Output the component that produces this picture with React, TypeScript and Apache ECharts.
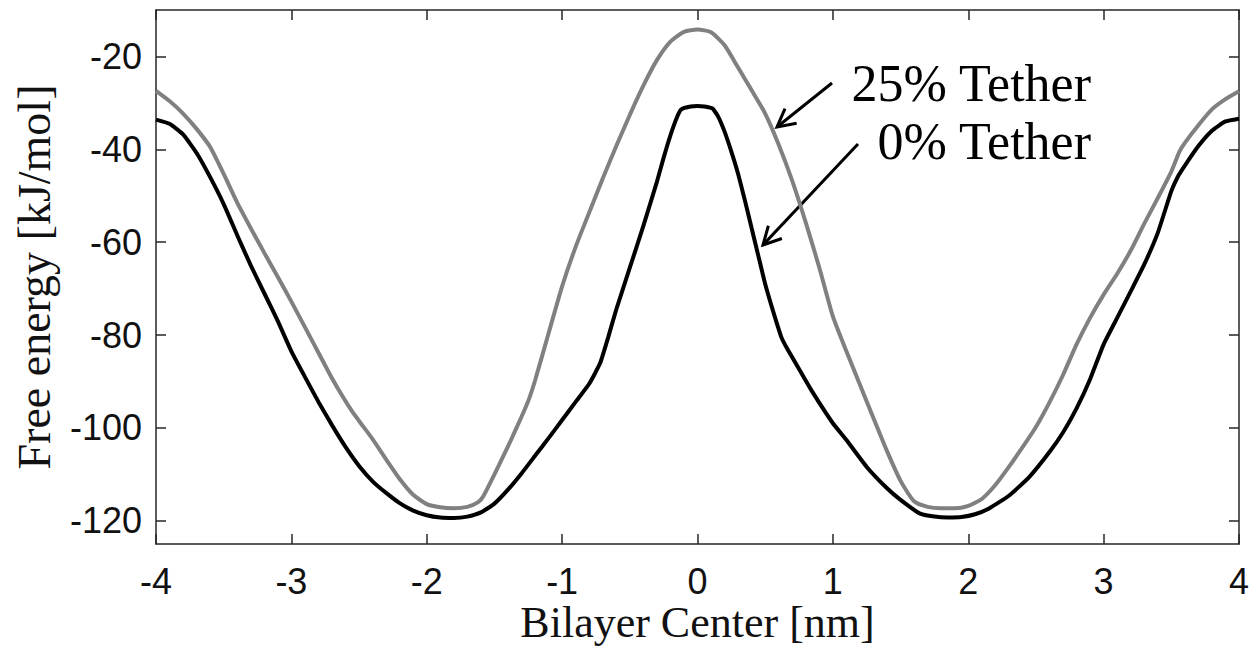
import React, { useEffect, useRef } from "react";
import * as echarts from "echarts";

const xTicks = [-4, -3, -2, -1, 0, 1, 2, 3, 4];
const yTicks = [-120, -100, -80, -60, -40, -20];

const tether25X = [
  -4.0, -3.9, -3.8, -3.7, -3.6, -3.5, -3.4, -3.3, -3.2, -3.1, -3.0, -2.9, -2.8, -2.7, -2.62, -2.55, -2.5, -2.4, -2.3,
  -2.2, -2.1, -2.0, -1.9, -1.8, -1.7, -1.62, -1.58, -1.5, -1.4, -1.3, -1.245, -1.2, -1.1, -1.0, -0.9, -0.8, -0.7,
  -0.6, -0.5, -0.4, -0.3, -0.2, -0.1, 0.0, 0.1, 0.2, 0.3, 0.4, 0.5, 0.6, 0.7, 0.8, 0.9, 1.0, 1.1, 1.2, 1.3, 1.4,
  1.5, 1.6, 1.7, 1.8, 1.9, 2.0, 2.1, 2.2, 2.3, 2.4, 2.5, 2.6, 2.7, 2.8, 2.9, 3.0, 3.1, 3.2, 3.3, 3.4, 3.5, 3.56,
  3.6, 3.7, 3.8, 3.9, 4.0,
];
const tether25Y = [
  -27.4, -29.6, -32.3, -35.6, -39.5, -45.3, -51.5, -57.0, -62.3, -67.5, -72.8, -78.3, -83.8, -89.3, -93.3, -96.5,
  -98.5, -102.4, -106.8, -111.0, -114.4, -116.4, -117.1, -117.3, -117.0, -116.0, -114.6, -110.0, -104.0, -97.6,
  -93.8, -89.8, -79.6, -69.5, -61.0, -53.6, -46.3, -39.3, -32.6, -26.3, -20.8, -16.8, -14.7, -14.2, -14.8, -17.6,
  -22.4, -27.3, -32.3, -39.0, -46.8, -55.8, -65.5, -76.0, -83.5, -90.7, -97.9, -105.0, -111.4, -115.8, -117.0,
  -117.3, -117.3, -116.8, -115.3, -112.3, -108.4, -104.2, -99.8, -94.5, -88.6, -82.0, -76.3, -71.3, -66.8, -61.8,
  -56.0, -50.5, -44.8, -40.5, -38.6, -34.8, -31.4, -29.2, -27.5,
];

const tether0X = [
  -4.0, -3.9, -3.8, -3.7, -3.6, -3.5, -3.4, -3.3, -3.2, -3.1, -3.0, -2.9, -2.8, -2.7, -2.6, -2.5, -2.4, -2.3, -2.2,
  -2.1, -2.0, -1.9, -1.8, -1.7, -1.6, -1.5, -1.4, -1.3, -1.2, -1.1, -1.0, -0.9, -0.8, -0.72, -0.66, -0.6, -0.5,
  -0.4, -0.3, -0.25, -0.2, -0.15, -0.12, -0.05, 0.0, 0.05, 0.11, 0.15, 0.2, 0.25, 0.3, 0.35, 0.4, 0.45, 0.5, 0.56,
  0.62, 0.66, 0.75, 0.85, 1.0, 1.1, 1.25, 1.4, 1.5, 1.64, 1.75, 1.85, 1.95, 2.05, 2.15, 2.3, 2.45, 2.6, 2.7, 2.8,
  2.9, 3.0, 3.1, 3.2, 3.3, 3.4, 3.5, 3.55, 3.6, 3.7, 3.8, 3.9, 4.0,
];
const tether0Y = [
  -33.6, -34.5, -36.8, -40.8, -46.0, -51.8, -58.5, -65.0, -71.0, -77.0, -83.5, -89.0, -94.4, -99.4, -104.1, -108.2,
  -111.5, -114.0, -116.2, -117.8, -118.8, -119.3, -119.4, -119.1, -118.2, -116.3, -113.3, -109.8, -106.0, -102.2,
  -98.3, -94.4, -90.5, -86.1, -80.5, -74.5, -65.5, -56.5, -47.0, -41.8, -37.0, -33.0, -31.4, -30.8, -30.7, -30.8,
  -31.2, -32.8, -36.2, -40.5, -45.3, -51.0, -57.0, -63.0, -69.0, -75.0, -80.5, -82.8, -87.3, -92.3, -99.0, -102.6,
  -108.4, -113.0, -115.5, -118.4, -119.1, -119.3, -119.2, -118.6, -117.4, -114.6, -110.6, -105.2, -101.0, -95.8,
  -89.5, -82.0, -76.3, -70.6, -64.8, -58.0, -49.0, -45.8, -43.5, -39.3, -36.0, -34.0, -33.4,
];

const labels25 = "25% Tether";
const labels0 = "0% Tether";

function arrow(x1: number, y1: number, x2: number, y2: number) {
  const len = 20;
  const a = Math.PI / 6.5;
  const ang = Math.atan2(y1 - y2, x1 - x2);
  return [
    { type: "line", shape: { x1, y1, x2, y2 }, style: { stroke: "#000", lineWidth: 3 } },
    {
      type: "polyline",
      shape: {
        points: [
          [x2 + len * Math.cos(ang + a), y2 + len * Math.sin(ang + a)],
          [x2, y2],
          [x2 + len * Math.cos(ang - a), y2 + len * Math.sin(ang - a)],
        ],
      },
      style: { stroke: "#000", lineWidth: 3, fill: null },
    },
  ];
}

const axisColor = "#262626";

export default function App() {
  const ref = useRef<HTMLDivElement>(null);
  useEffect(() => {
    if (!ref.current) return;
    const chart = echarts.init(ref.current, null, { renderer: "svg" });
    const zip = (xs: number[], ys: number[]) => xs.map((x, i) => [x, ys[i]]);
    const lineCommon = {
      axisLine: { show: true, onZero: false, lineStyle: { color: axisColor, width: 1.5 } },
      splitLine: { show: false },
    };
    chart.setOption({
      animation: false,
      backgroundColor: "#fff",
      grid: { left: 156, right: 19, top: 10, bottom: 105, containLabel: false, outerBoundsMode: "none" },
      xAxis: [
        {
          type: "value",
          min: -4,
          max: 4,
          interval: 1,
          position: "bottom",
          ...lineCommon,
          axisTick: { inside: true, length: 10, lineStyle: { color: axisColor, width: 1.5 } },
          axisLabel: {
            fontSize: 36,
            lineHeight: 30,
            fontFamily: "Liberation Sans",
            color: "#111",
            margin: 22,
            customValues: xTicks,
          },
          name: "Bilayer Center [nm]",
          nameLocation: "middle",
          nameGap: 58,
          nameMoveOverlap: false,
          nameTextStyle: { fontFamily: "Liberation Serif", fontSize: 44, lineHeight: 40, color: "#111" },
        },
        {
          type: "value",
          min: -4,
          max: 4,
          interval: 1,
          position: "top",
          ...lineCommon,
          axisTick: { inside: true, length: 10, lineStyle: { color: axisColor, width: 1.5 } },
          axisLabel: { show: false },
        },
      ],
      yAxis: [
        {
          type: "value",
          min: -125,
          max: -10,
          position: "left",
          ...lineCommon,
          axisTick: {
            inside: true,
            length: 10,
            customValues: yTicks,
            lineStyle: { color: axisColor, width: 1.5 },
          },
          axisLabel: {
            fontSize: 36,
            fontFamily: "Liberation Sans",
            color: "#111",
            margin: 14,
            customValues: yTicks,
          },
          name: "Free energy [kJ/mol]",
          nameLocation: "middle",
          nameGap: 99,
          nameMoveOverlap: false,
          nameTextStyle: { fontFamily: "Liberation Serif", fontSize: 46, color: "#111" },
        },
        {
          type: "value",
          min: -125,
          max: -10,
          position: "right",
          ...lineCommon,
          axisTick: {
            inside: true,
            length: 10,
            customValues: yTicks,
            lineStyle: { color: axisColor, width: 1.5 },
          },
          axisLabel: { show: false },
        },
      ],
      series: [
        {
          name: labels25,
          type: "line",
          xAxisIndex: 0,
          yAxisIndex: 0,
          data: zip(tether25X, tether25Y),
          showSymbol: false,
          smooth: 0.2,
          lineStyle: { color: "#808080", width: 4 },
          z: 2,
        },
        {
          name: labels0,
          type: "line",
          xAxisIndex: 0,
          yAxisIndex: 0,
          data: zip(tether0X, tether0Y),
          showSymbol: false,
          smooth: 0.15,
          lineStyle: { color: "#000", width: 4 },
          z: 3,
        },
      ],
      graphic: [
        ...arrow(832, 83, 777, 127),
        ...arrow(858, 144, 763, 245),
        {
          type: "text",
          x: 1091,
          y: 83,
          style: {
            text: labels25,
            font: "52px 'Liberation Serif'",
            fill: "#000",
            align: "right",
            verticalAlign: "middle",
          },
        },
        {
          type: "text",
          x: 1091,
          y: 141,
          style: {
            text: labels0,
            font: "52px 'Liberation Serif'",
            fill: "#000",
            align: "right",
            verticalAlign: "middle",
          },
        },
      ],
    });
    return () => chart.dispose();
  }, []);
  return (
    <div
      ref={ref}
      style={{ position: "fixed", left: 0, top: 0, width: 1258, height: 649, background: "#fff" }}
    />
  );
}
